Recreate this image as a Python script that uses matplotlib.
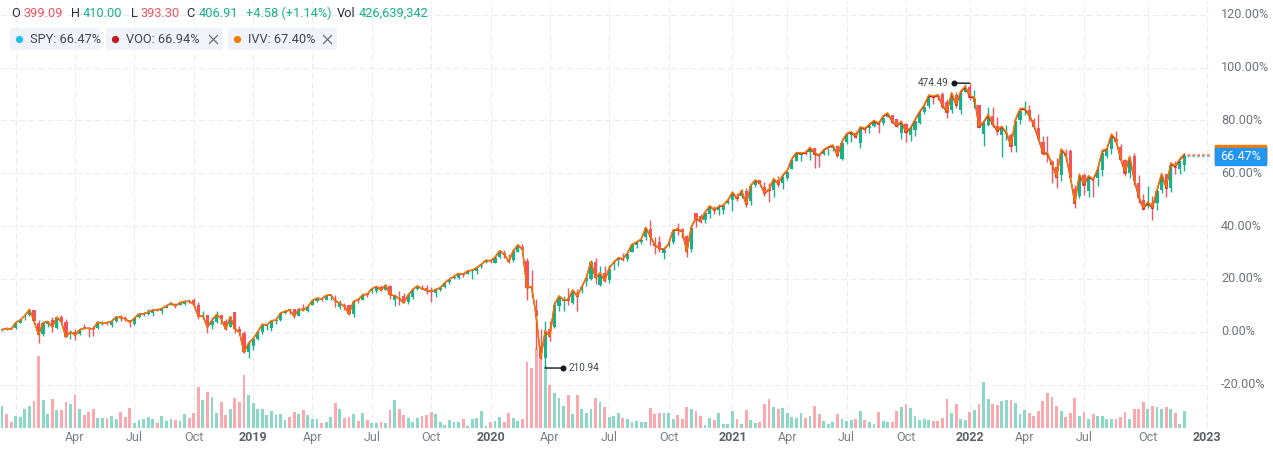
import numpy as np
import matplotlib.pyplot as plt
import matplotlib.transforms as mtransforms
from matplotlib.patches import FancyBboxPatch, Rectangle

plt.rcParams['font.family'] = ['Roboto', 'DejaVu Sans']
plt.rcParams['lines.scale_dashes'] = False

# SPY weekly bars, week of 11 Dec 2017 .. week of 28 Nov 2022 (raw prices)
spy_open = [
    265.58, 268.10, 267.05, 267.84, 273.31, 279.35, 281.09, 285.93, 273.45, 261.95,
    271.69, 275.68, 267.73, 279.20, 273.35, 262.13, 262.55, 261.37, 267.00, 267.26,
    267.26, 266.92, 271.05, 272.76, 270.14, 273.89, 278.90, 275.50, 273.55, 269.51,
    276.55, 279.26, 279.43, 280.95, 283.64, 282.35, 285.61, 288.86, 289.84, 288.74,
    290.04, 291.34, 292.11, 287.05, 275.55, 277.00, 267.51, 270.71, 277.19, 271.64,
    265.78, 280.28, 263.37, 259.40, 239.04, 244.92, 252.69, 258.82, 264.82, 263.39,
    270.11, 271.20, 277.37, 281.16, 281.59, 275.29, 281.66, 278.87, 284.70, 288.10,
    291.57, 289.17, 293.51, 289.25, 282.42, 284.06, 284.14, 275.31, 289.37, 289.52,
    294.23, 296.68, 297.01, 300.58, 297.61, 301.88, 288.09, 289.96, 292.19, 286.14,
    290.57, 298.87, 299.84, 298.37, 295.97, 293.43, 295.99, 299.42, 303.70, 307.85,
    307.76, 311.85, 311.98, 314.59, 314.44, 319.54, 321.59, 322.95, 320.49, 326.39,
    330.80, 323.03, 323.35, 331.23, 336.51, 323.14, 298.21, 275.30, 241.18, 228.19,
    255.70, 257.84, 277.57, 282.61, 285.12, 280.74, 290.34, 293.05, 301.93, 303.62,
    320.22, 298.02, 307.99, 301.41, 316.37, 320.13, 321.43, 321.63, 327.86, 335.06,
    337.94, 342.12, 350.35, 336.71, 337.49, 325.70, 333.22, 336.06, 349.59, 348.65,
    342.13, 330.20, 363.97, 360.98, 357.28, 362.83, 369.02, 367.12, 364.97, 371.74,
    375.31, 377.85, 378.34, 383.67, 373.72, 388.82, 393.96, 387.06, 385.59, 384.66,
    393.59, 390.03, 394.40, 403.46, 410.85, 416.26, 417.44, 419.43, 422.50, 415.39,
    417.34, 422.57, 422.59, 424.43, 411.54, 427.17, 433.78, 435.43, 426.19, 439.31,
    440.34, 442.46, 444.53, 445.16, 450.97, 452.71, 448.64, 434.88, 442.81, 433.00,
    437.16, 443.97, 454.28, 460.30, 469.70, 469.28, 470.89, 464.07, 456.13, 470.19,
    454.48, 472.06, 476.30, 462.70, 459.74, 432.03, 441.24, 449.51, 439.92, 431.89,
    432.03, 431.55, 420.89, 444.34, 452.06, 453.13, 444.11, 436.81, 423.67, 412.07,
    405.10, 399.98, 392.83, 413.55, 414.78, 379.85, 371.89, 391.05, 375.88, 385.85,
    388.38, 395.75, 409.15, 415.25, 424.77, 417.05, 405.25, 393.13, 408.78, 382.26,
    366.41, 361.08, 363.96, 364.01, 375.89, 390.14, 377.71, 396.66, 394.64, 399.09,
]
spy_high = [
    267.22, 268.60, 268.55, 273.56, 276.58, 282.18, 286.63, 286.43, 275.85, 275.32,
    275.55, 278.91, 278.94, 280.91, 275.98, 265.43, 265.64, 267.00, 271.30, 268.19,
    268.87, 273.08, 273.58, 274.25, 274.09, 279.28, 279.48, 277.49, 273.90, 275.55,
    280.20, 281.69, 284.37, 283.66, 285.81, 285.55, 287.66, 291.74, 290.21, 291.27,
    293.94, 293.21, 293.94, 289.82, 281.15, 277.36, 275.23, 281.22, 277.47, 273.16,
    275.98, 280.40, 266.29, 261.30, 250.29, 253.11, 259.16, 266.98, 266.70, 270.47,
    273.44, 277.41, 280.31, 281.30, 281.87, 282.04, 285.18, 282.58, 288.90, 290.47,
    291.81, 293.49, 294.95, 294.15, 289.30, 286.09, 284.53, 288.24, 290.82, 296.31,
    294.57, 298.82, 300.73, 302.23, 302.23, 302.05, 293.62, 296.14, 294.23, 294.24,
    298.83, 302.04, 302.63, 300.57, 298.70, 298.30, 300.21, 302.20, 306.20, 309.01,
    311.84, 312.23, 315.48, 315.31, 317.99, 320.98, 323.80, 324.89, 327.46, 332.98,
    332.95, 329.00, 334.19, 338.12, 339.08, 325.15, 313.84, 286.44, 256.90, 263.33,
    263.23, 281.20, 287.30, 286.79, 294.88, 292.95, 294.00, 297.87, 306.84, 321.27,
    323.41, 315.64, 314.50, 315.70, 319.76, 323.04, 327.23, 327.13, 334.88, 338.28,
    339.72, 350.72, 358.75, 342.64, 343.06, 331.20, 338.74, 346.88, 354.02, 349.33,
    342.98, 352.19, 364.38, 362.78, 364.18, 369.85, 371.05, 372.46, 371.00, 374.66,
    381.49, 381.13, 384.95, 385.85, 388.47, 392.90, 394.17, 392.23, 390.92, 395.65,
    397.83, 396.41, 400.67, 411.67, 417.91, 418.25, 420.72, 422.82, 422.74, 418.20,
    421.25, 422.92, 424.63, 425.46, 427.09, 434.10, 435.84, 437.92, 440.30, 441.80,
    442.94, 445.94, 447.11, 450.65, 454.05, 453.11, 448.92, 444.89, 444.05, 441.68,
    446.26, 454.67, 459.56, 470.65, 470.23, 470.94, 473.54, 466.56, 470.90, 472.87,
    472.19, 479.00, 479.98, 473.20, 459.96, 444.04, 458.12, 457.88, 448.06, 437.84,
    441.11, 433.37, 444.86, 452.98, 462.07, 457.83, 445.75, 450.01, 429.64, 429.66,
    406.41, 408.57, 415.38, 417.44, 416.61, 383.90, 390.09, 393.16, 390.64, 386.87,
    400.18, 413.03, 415.68, 427.21, 431.73, 419.96, 405.84, 407.51, 411.73, 389.31,
    372.30, 379.46, 370.26, 375.45, 389.52, 390.39, 399.35, 402.31, 402.93, 410.00,
]
spy_low = [
    264.78, 266.46, 266.64, 267.40, 272.98, 276.18, 280.56, 275.21, 252.92, 259.58,
    268.77, 264.39, 267.40, 273.44, 257.93, 256.08, 254.67, 259.69, 265.67, 257.83,
    259.05, 265.56, 269.70, 269.58, 268.14, 273.33, 273.95, 272.92, 267.00, 268.49,
    276.04, 278.17, 279.16, 278.09, 282.78, 280.16, 285.26, 288.11, 285.81, 288.46,
    288.87, 289.38, 284.96, 273.92, 273.87, 259.85, 263.18, 269.72, 268.45, 262.29,
    265.24, 259.67, 257.94, 239.98, 233.76, 241.62, 251.69, 256.92, 260.87, 260.58,
    266.67, 269.98, 277.06, 276.84, 272.42, 274.88, 278.60, 277.53, 284.35, 286.81,
    288.06, 289.07, 288.92, 282.30, 280.60, 279.93, 275.00, 273.05, 285.96, 288.81,
    290.68, 294.30, 294.92, 296.71, 297.42, 289.27, 281.72, 283.00, 284.74, 283.57,
    289.27, 297.77, 298.09, 292.80, 284.82, 288.99, 294.84, 297.91, 301.75, 306.58,
    307.26, 309.18, 311.48, 307.13, 311.60, 317.69, 320.55, 320.36, 320.36, 325.61,
    325.63, 320.62, 321.60, 331.19, 332.58, 285.54, 288.42, 238.40, 228.02, 218.26,
    243.90, 256.17, 272.57, 273.04, 278.96, 279.13, 272.99, 290.23, 297.22, 302.53,
    299.01, 296.74, 299.42, 298.93, 310.51, 314.62, 319.25, 319.24, 327.73, 332.01,
    335.22, 339.45, 334.87, 326.40, 327.97, 319.80, 331.19, 334.63, 343.13, 340.65,
    322.60, 327.24, 350.51, 354.15, 354.87, 359.17, 363.26, 362.03, 362.03, 370.83,
    364.82, 373.70, 376.75, 368.27, 370.38, 387.50, 387.74, 378.23, 372.88, 377.42,
    387.15, 383.90, 392.81, 403.38, 410.20, 410.59, 416.30, 411.67, 404.00, 405.33,
    416.64, 416.28, 420.32, 414.70, 410.86, 425.55, 427.52, 430.92, 421.97, 435.99,
    436.10, 441.31, 436.12, 443.44, 450.71, 445.31, 441.02, 428.86, 426.36, 427.23,
    431.54, 443.27, 452.39, 458.20, 462.04, 465.22, 457.77, 448.92, 453.56, 458.06,
    451.14, 471.45, 464.65, 456.60, 437.95, 420.76, 439.81, 438.94, 431.82, 410.64,
    427.11, 415.12, 415.79, 440.68, 449.14, 443.47, 436.65, 425.44, 411.21, 405.02,
    385.15, 380.54, 386.96, 406.93, 389.75, 362.17, 370.18, 372.56, 371.04, 371.04,
    380.66, 389.95, 406.82, 410.22, 421.22, 405.25, 390.04, 388.42, 382.11, 363.29,
    357.04, 359.21, 348.11, 357.26, 373.11, 368.79, 373.61, 390.14, 390.89, 393.30,
]
spy_close = [
    266.51, 267.51, 266.86, 273.42, 276.12, 280.41, 286.58, 275.45, 261.50, 273.11,
    274.71, 269.08, 278.87, 274.20, 258.05, 263.15, 259.72, 265.15, 266.61, 266.56,
    266.02, 272.85, 271.33, 272.15, 273.60, 277.95, 277.13, 274.74, 271.28, 275.42,
    279.59, 279.68, 281.42, 283.60, 283.16, 285.06, 287.51, 290.31, 287.60, 290.88,
    291.99, 290.72, 287.82, 275.95, 276.25, 265.33, 271.89, 277.76, 273.73, 263.25,
    275.65, 263.57, 260.47, 240.70, 247.75, 252.39, 258.98, 266.46, 265.96, 270.06,
    270.47, 277.37, 279.14, 280.42, 274.46, 281.31, 279.25, 282.48, 288.57, 290.72,
    290.02, 293.41, 294.03, 288.10, 285.84, 282.78, 275.27, 287.65, 289.26, 294.00,
    293.00, 298.46, 300.65, 297.17, 302.01, 292.62, 291.62, 288.85, 284.85, 292.45,
    297.97, 301.09, 298.28, 295.40, 294.35, 296.28, 297.97, 302.97, 306.14, 309.00,
    311.79, 310.96, 314.31, 314.87, 317.32, 320.73, 322.86, 322.41, 325.71, 331.95,
    328.77, 321.73, 332.20, 337.60, 333.48, 296.26, 297.46, 269.32, 228.80, 253.42,
    248.19, 278.20, 286.64, 282.97, 282.79, 292.44, 286.28, 295.44, 304.32, 319.34,
    304.21, 308.64, 300.05, 312.23, 317.59, 321.72, 320.88, 326.52, 334.57, 336.84,
    339.48, 350.58, 342.57, 334.06, 330.65, 328.73, 333.84, 346.85, 347.29, 345.78,
    326.54, 350.16, 358.10, 355.33, 363.67, 369.85, 366.30, 369.18, 369.00, 373.88,
    381.26, 375.70, 382.88, 370.07, 387.71, 392.64, 390.03, 380.36, 383.63, 394.06,
    389.48, 395.98, 400.61, 411.49, 417.26, 416.74, 417.30, 422.12, 416.58, 414.94,
    420.04, 422.60, 424.31, 414.92, 426.61, 433.72, 435.52, 431.34, 439.94, 438.51,
    442.49, 445.92, 443.36, 450.25, 453.08, 445.44, 441.40, 443.91, 434.24, 437.86,
    445.87, 453.12, 459.25, 468.53, 467.27, 468.89, 458.97, 453.42, 470.74, 459.87,
    470.60, 474.96, 466.09, 464.72, 437.98, 441.95, 448.70, 440.46, 434.23, 437.75,
    432.17, 420.07, 444.52, 452.69, 452.92, 447.57, 437.79, 426.04, 412.00, 411.34,
    401.72, 389.63, 415.26, 410.54, 389.80, 365.86, 390.08, 381.24, 388.67, 385.13,
    395.09, 411.99, 413.47, 427.10, 422.14, 405.31, 392.24, 406.60, 385.56, 367.95,
    357.18, 362.79, 357.63, 374.29, 389.02, 376.35, 398.51, 396.03, 402.33, 406.91,
]
# weekly volume, millions of shares
spy_volume = [
    550, 350, 150, 300, 275, 475, 550, 675, 1800, 700,
    350, 725, 450, 450, 650, 600, 825, 475, 325, 400,
    475, 250, 250, 250, 300, 225, 400, 275, 500, 125,
    200, 225, 275, 225, 125, 300, 175, 225, 200, 175,
    350, 250, 375, 1025, 700, 900, 775, 375, 650, 325,
    475, 750, 650, 1325, 825, 625, 475, 475, 325, 425,
    325, 350, 200, 275, 400, 350, 450, 325, 225, 225,
    125, 150, 275, 625, 475, 250, 275, 350, 175, 375,
    200, 125, 125, 150, 125, 450, 700, 475, 325, 250,
    150, 250, 300, 325, 400, 350, 150, 75, 200, 150,
    150, 225, 40, 225, 250, 425, 40, 150, 175, 275,
    150, 375, 250, 175, 225, 1650, 1500, 2000, 1950, 1550,
    1075, 875, 750, 550, 825, 350, 825, 475, 375, 475,
    750, 650, 525, 275, 300, 375, 250, 225, 150, 175,
    150, 150, 500, 350, 375, 375, 375, 225, 325, 225,
    525, 475, 425, 300, 75, 250, 200, 375, 100, 100,
    425, 225, 100, 450, 200, 125, 150, 600, 725, 525,
    475, 500, 375, 275, 250, 375, 250, 300, 550, 350,
    175, 100, 150, 350, 225, 175, 200, 225, 425, 200,
    150, 100, 400, 175, 150, 150, 425, 525, 600, 500,
    300, 200, 225, 200, 175, 175, 250, 725, 375, 600,
    225, 200, 400, 450, 600, 1150, 725, 600, 575, 675,
    700, 700, 625, 350, 450, 375, 300, 425, 675, 875,
    775, 550, 425, 275, 375, 750, 300, 400, 225, 350,
    300, 300, 225, 225, 225, 275, 400, 225, 475, 475,
    650, 475, 550, 525, 475, 525, 475, 375, 100, 426.639342,
]

# dividend back-adjustment: first bar of each period and its factor
div_start = [0, 14, 27, 41, 54, 66, 80, 93, 106, 119,
             132, 145, 158, 171, 184, 197, 210, 223, 236, 249]
div_factor = [0.92501, 0.92880, 0.93298, 0.93723, 0.94271, 0.94686, 0.95147,
              0.95588, 0.96056, 0.96646, 0.97020, 0.97362, 0.97730, 0.98013,
              0.98297, 0.98550, 0.98856, 0.99164, 0.99587, 1.00000]

# VOO and IVV versus SPY over the same periods, in %
voo_rel = [0.000, 0.012, 0.027, 0.041, 0.055, 0.069, 0.084, 0.098, 0.113, 0.129,
           0.143, 0.158, 0.172, 0.186, 0.200, 0.215, 0.230, 0.246, 0.263, 0.281]
ivv_rel = [0.000, 0.026, 0.054, 0.082, 0.110, 0.137, 0.166, 0.195, 0.224, 0.254,
           0.283, 0.312, 0.341, 0.370, 0.398, 0.427, 0.456, 0.487, 0.521, 0.558]

base_price = 244.43   # reference price of the percentage scale

tick_pos = [3, 16, 29, 42, 55, 68, 81, 94, 107, 120, 133, 146, 160, 172, 185,
            198, 212, 224, 237, 251, 264]
tick_text = ["", "Apr", "Jul", "Oct", "2019", "Apr", "Jul", "Oct", "2020", "Apr",
             "Jul", "Oct", "2021", "Apr", "Jul", "Oct", "2022", "Apr", "Jul", "Oct",
             "2023"]
pct_ticks = [-20, 0, 20, 40, 60, 80, 100, 120]

UP, DOWN = "#14b38b", "#f7525f"
UP_VOL, DOWN_VOL = "#8ad8c5", "#fba9af"
GRID = "#e9edf3"
SPY_C, SPY_DOT = "#2196f3", "#1fc1ef"
VOO_C, IVV_C = "#c41c1c", "#f57c00"
TXT, AXT = "#2a2e39", "#70737e"

# ---------------------------------------------------------------
n = len(spy_close)
seg = np.diff(div_start + [n])
adj = np.repeat(div_factor, seg)


def to_pct(prices):
    return (np.asarray(prices) * adj / base_price - 1) * 100


o_p, h_p, l_p, c_p = map(to_pct, (spy_open, spy_high, spy_low, spy_close))
voo_p = ((1 + c_p / 100) * (1 + np.repeat(voo_rel, seg) / 100) - 1) * 100
ivv_p = ((1 + c_p / 100) * (1 + np.repeat(ivv_rel, seg) / 100) - 1) * 100
x = np.arange(n)
up = np.array(spy_close) >= np.array(spy_open)

W, H = 1273, 450
XL, YL = (-0.44, 264.6), (-36.4, 125.6)
fig = plt.figure(figsize=(W / 100, H / 100), dpi=100)
pos = [0, 22 / H, 1210 / W, 428 / H]
ax_v = fig.add_axes(pos)
ax = fig.add_axes(pos, sharex=ax_v)
for a in (ax_v, ax):
    a.set_axis_off()
ax.set_xlim(*XL)
ax.set_ylim(*YL)
ax_v.set_ylim(0, 10700)

# grid
dash = (0, (4.3, 2.5))
for p in tick_pos:
    ax_v.axvline(p, color=GRID, lw=0.75, ls=dash, zorder=0)
htr = mtransforms.blended_transform_factory(ax_v.transAxes, ax.transData)
for v in pct_ticks:
    ax_v.plot([0, 1], [v, v], transform=htr, color=GRID, lw=0.75, ls=dash, zorder=0)

# volume
ax_v.bar(x, spy_volume, width=0.62, color=np.where(up, UP_VOL, DOWN_VOL),
         linewidth=0, zorder=1)

# candles
cc = np.where(up, UP, DOWN)
ax.vlines(x, l_p, h_p, colors=cc, lw=1.0, zorder=2)
body_lo = np.minimum(o_p, c_p)
body_h = np.maximum(np.abs(c_p - o_p), 0.35)
ax.bar(x, body_h, bottom=body_lo, width=0.7, color=cc, linewidth=0, zorder=3)

# comparison lines
ax.plot(x, voo_p, color=VOO_C, lw=1.0, zorder=4)
ax.plot(x, ivv_p, color=IVV_C, lw=1.0, zorder=5)

last = [(voo_p[-1], VOO_C), (ivv_p[-1], IVV_C), (c_p[-1], SPY_C)]
for v, col in last:
    ax.plot([x[-1] + 0.6, XL[1]], [v, v], color=col, lw=1, ls=(0, (2, 1.5)),
            alpha=0.55, zorder=4)

# high / low markers
adj_high = np.array(spy_high) * adj
adj_low = np.array(spy_low) * adj
i_hi, i_lo = int(adj_high.argmax()), int(adj_low.argmin())
ink = "#131722"
for i, val, d in ((i_hi, h_p[i_hi], -16), (i_lo, l_p[i_lo], 18)):
    ax.annotate("", xy=(i, val), xytext=(d, 0), textcoords="offset pixels",
                arrowprops=dict(arrowstyle="-", color=ink, lw=1, shrinkA=0, shrinkB=0),
                zorder=6)
    dot_tr = mtransforms.offset_copy(ax.transData, fig=fig, x=d, y=0, units="dots")
    ax.plot([i], [val], "o", ms=3.3, color=ink, transform=dot_tr, zorder=6)
ax.annotate(f"{adj_high[i_hi]:.2f}", xy=(i_hi, h_p[i_hi]), xytext=(-21, 0),
            textcoords="offset pixels", ha="right", va="center", fontsize=7.2,
            color="#434651", zorder=6)
ax.annotate(f"{adj_low[i_lo]:.2f}", xy=(i_lo, l_p[i_lo]), xytext=(23, 0),
            textcoords="offset pixels", ha="left", va="center", fontsize=7.2,
            color="#434651", zorder=6)

# right scale
ytr = ax.get_yaxis_transform()
for v in pct_ticks:
    ax.text(1 + 11 / 1210, v, f"{v:.2f}%", transform=ytr, ha="left", va="center",
            fontsize=9.1, color=AXT, clip_on=False)
box_tr = mtransforms.blended_transform_factory(fig.transFigure, ax.transData)
bh = 17 / 428 * (YL[1] - YL[0])
for k, (v, col) in enumerate(last):
    ax.add_patch(Rectangle((1215 / W, v - bh / 2), 51 / W, bh, transform=box_tr,
                           color=col, clip_on=False, zorder=10 + 2 * k))
    ax.text(1240.5 / W, v, f"{v:.2f}%", transform=box_tr, ha="center", va="center",
            color="white", fontsize=9.1, clip_on=False, zorder=11 + 2 * k)

# time axis
xtr = ax.get_xaxis_transform()
for p, t in zip(tick_pos, tick_text):
    if not t:
        continue
    yr = t.isdigit()
    ax.text(p, -9.5 / 428, t, transform=xtr, ha="center", va="center",
            fontsize=9.0, color="#5d606b" if yr else "#7b7e88",
            fontweight="bold" if yr else "normal", clip_on=False)

# header and legend, in pixel coordinates
ov = fig.add_axes([0, 0, 1, 1])
ov.set_xlim(0, W)
ov.set_ylim(H, 0)
ov.set_axis_off()

prev = spy_close[-2]
o, hh, ll, c = spy_open[-1], spy_high[-1], spy_low[-1], spy_close[-1]


def tone(v):
    return UP if v >= prev else DOWN


chg = c - prev
head = [("O", 11, TXT), (f"{o:.2f}", 23, tone(o)), ("H", 71, TXT), (f"{hh:.2f}", 83, tone(hh)),
        ("L", 131, TXT), (f"{ll:.2f}", 140, tone(ll)), ("C", 186, TXT), (f"{c:.2f}", 199, tone(c)),
        (f"{chg:+.2f} ({chg / prev * 100:+.2f}%)", 246, tone(c)), ("Vol", 337, TXT),
        (f"{int(round(spy_volume[-1] * 1e6)):,}", 359, UP if c >= o else DOWN)]
for t, x0, col in head:
    ov.text(x0, 13.5, t, ha="left", va="center", fontsize=9.2, color=col)

pills = [(10, 90, "SPY", c_p[-1], SPY_DOT, False),
         (106, 117, "VOO", voo_p[-1], VOO_C, True),
         (228, 109, "IVV", ivv_p[-1], IVV_C, True)]
for x0, w, name, val, col, closable in pills:
    ov.add_patch(FancyBboxPatch((x0, 28), w, 22, boxstyle="round,pad=0,rounding_size=3",
                                fc="#f0f3fa", ec="none"))
    ov.plot([x0 + 9], [39], "o", ms=4.2, color=col)
    ov.text(x0 + 20, 39.5, f"{name}: {val:.2f}%", ha="left", va="center",
            fontsize=9.2, color="#434651")
    if closable:
        cx, cy = x0 + w - 9.5, 39.5
        ov.plot([cx - 4, cx + 4], [cy - 4, cy + 4], color="#6a6d78", lw=0.9)
        ov.plot([cx - 4, cx + 4], [cy + 4, cy - 4], color="#6a6d78", lw=0.9)

ax.set_xlim(*XL)
ax.set_ylim(*YL)
fig.savefig("out.png", dpi=100, facecolor="white")
